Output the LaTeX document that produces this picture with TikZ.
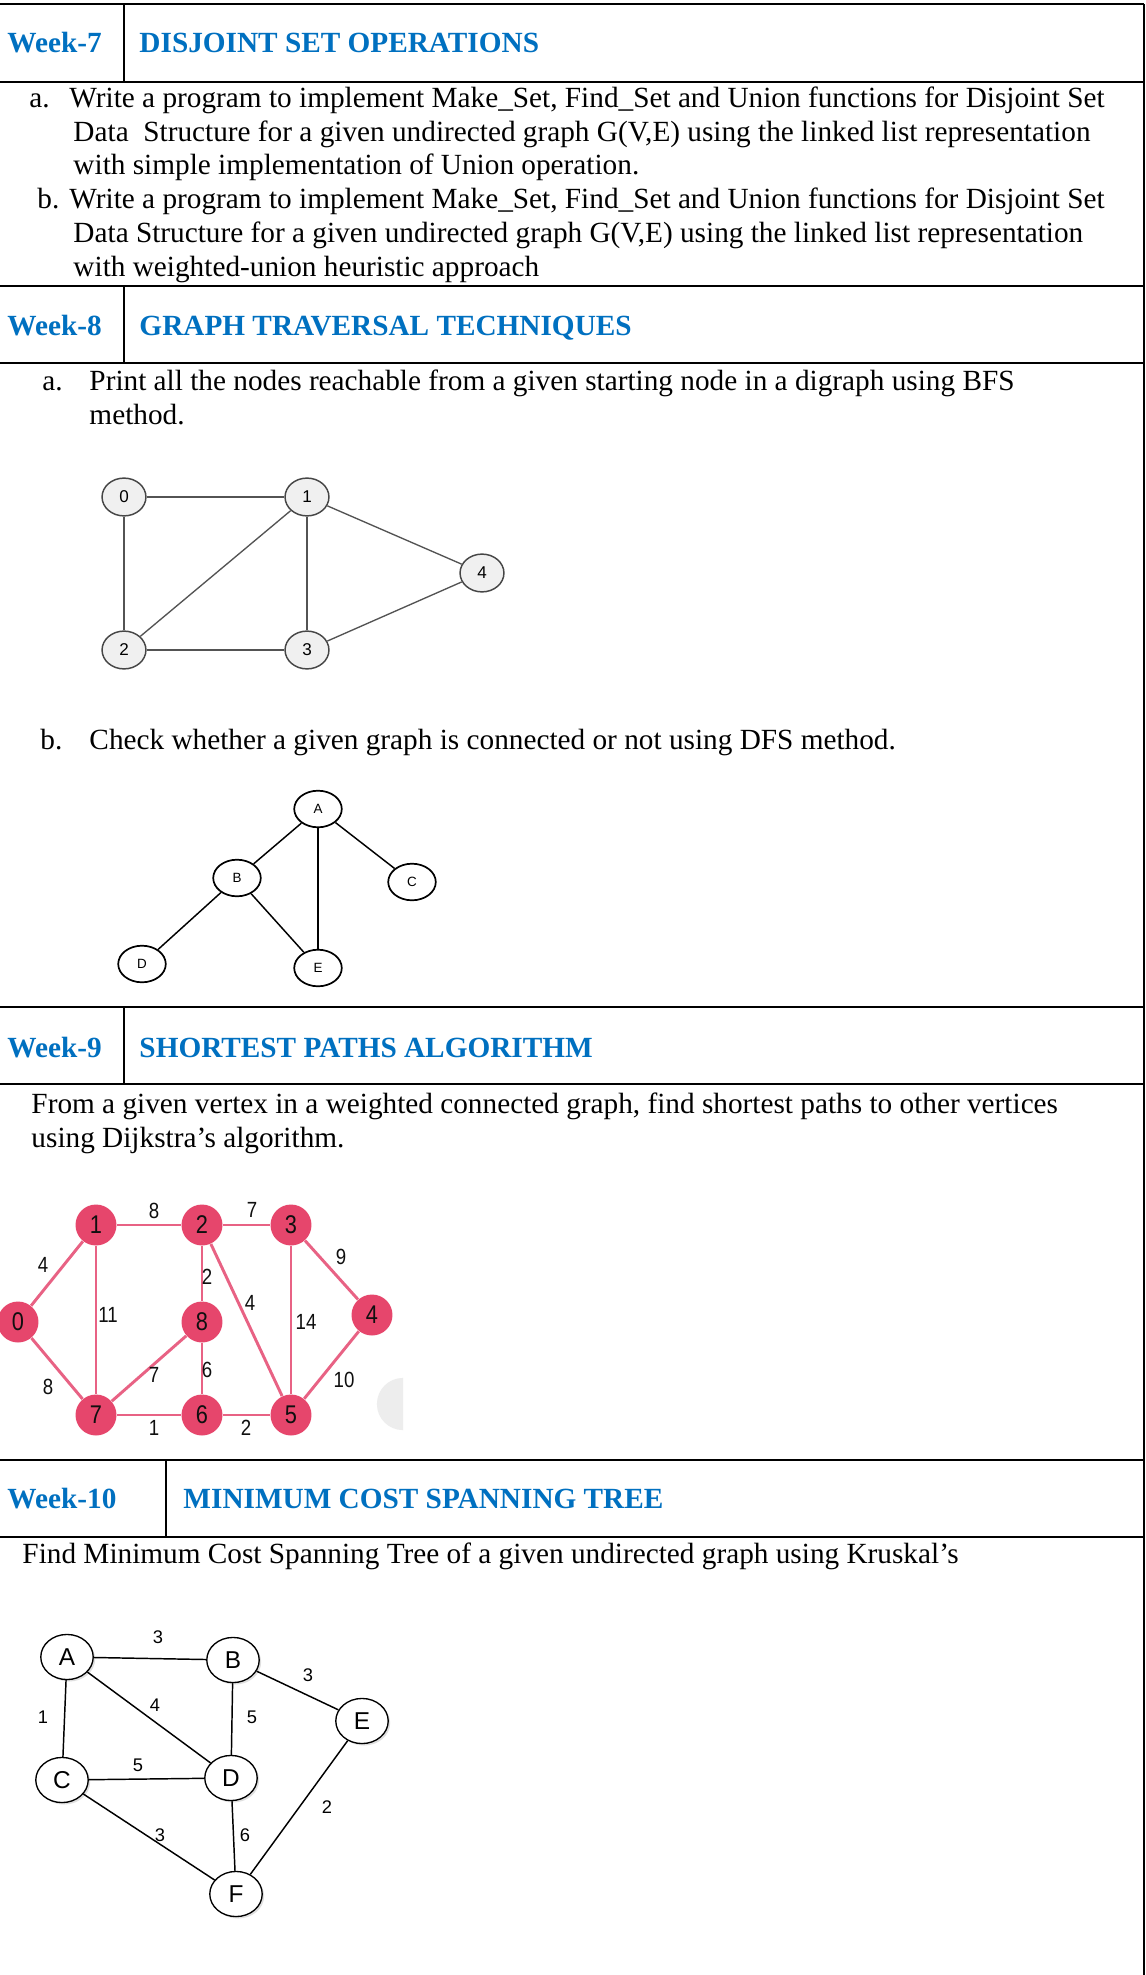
\documentclass[tikz,border=0pt]{standalone}
\usepackage{fontspec}
\setmainfont{Liberation Serif}
\setsansfont{Liberation Sans}
\newfontfamily\narrowsans[FakeStretch=0.85]{Liberation Sans}
\usetikzlibrary{shapes.geometric,shadows}
\definecolor{wkblue}{HTML}{0070C0}
\definecolor{djred}{RGB}{230,70,108}
\definecolor{djpink}{RGB}{232,98,132}
\definecolor{djtext}{RGB}{15,15,15}

\begin{document}
\begin{tikzpicture}[x=0.41pt,y=-0.41pt,
  rule/.style={line width=0.8pt},
  txt/.style={anchor=base west,inner sep=0pt,font=\fontsize{12}{14}\selectfont},
  head/.style={anchor=base west,inner sep=0pt,text=wkblue,font=\fontsize{12}{14}\selectfont\bfseries},
  bfsnode/.style={ellipse,draw=gray!55!black,fill=gray!12,line width=0.6pt,minimum width=18pt,minimum height=15.5pt,inner sep=0pt,font=\sffamily\fontsize{7}{7}\selectfont},
  bfsedge/.style={gray!65!black,line width=0.55pt},
  dfsnode/.style={ellipse,draw,line width=0.7pt,fill=white,minimum width=19.5pt,minimum height=15pt,inner sep=0pt,font=\sffamily\fontsize{5.5}{5.5}\selectfont},
  dfsedge/.style={line width=0.6pt},
  djnode/.style={circle,fill=djred,text=djtext,minimum size=16.8pt,inner sep=0pt,font=\narrowsans\fontsize{10.5}{10.5}\selectfont},
  djedge/.style={djpink,line width=1.2pt},
  djwt/.style={inner sep=0pt,text=djtext,font=\narrowsans\fontsize{9}{9}\selectfont},
  krnode/.style={ellipse,draw,line width=0.55pt,fill=white,minimum width=21.5pt,minimum height=18.5pt,inner sep=0pt,font=\sffamily\fontsize{10}{10}\selectfont,drop shadow={opacity=0.25,shadow xshift=0.8pt,shadow yshift=-0.8pt}},
  kredge/.style={line width=0.6pt},
  krwt/.style={inner sep=0pt,font=\sffamily\fontsize{7.5}{7.5}\selectfont}]
\useasboundingbox [fill=white] (0,0) rectangle (1145,1975);

% table rules
\draw [rule] (0,4) -- (1144,4);
\draw [rule] (1144,4) -- (1144,1975);
\draw [rule] (124,4) -- (124,82);
\draw [rule] (0,82) -- (1144,82);
\draw [rule] (0,286) -- (1144,286);
\draw [rule] (124,286) -- (124,363);
\draw [rule] (0,363) -- (1144,363);
\draw [rule] (0,1007) -- (1144,1007);
\draw [rule] (124,1007) -- (124,1084);
\draw [rule] (0,1084) -- (1144,1084);
\draw [rule] (0,1460) -- (1144,1460);
\draw [rule] (166,1460) -- (166,1537);
\draw [rule] (0,1537) -- (1144,1537);

% week 7
\node [head] (wk7) at (7,53) {Week-7};
\node [head] (wk7t) at (139,53) {DISJOINT SET OPERATIONS};
\node [txt] (wk7a) at (29,108) {a.};
\node [txt] (wk7a1) at (69,108) {Write a program to implement Make\_Set, Find\_Set and Union functions for Disjoint Set};
\node [txt] (wk7a2) at (73,142) {Data\ \ Structure for a given undirected graph G(V,E) using the linked list representation};
\node [txt] (wk7a3) at (73,175) {with simple implementation of Union operation.};
\node [txt] (wk7b) at (37,209) {b.};
\node [txt] (wk7b1) at (69,209) {Write a program to implement Make\_Set, Find\_Set and Union functions for Disjoint Set};
\node [txt] (wk7b2) at (73,243) {Data Structure for a given undirected graph G(V,E) using the linked list representation};
\node [txt] (wk7b3) at (73,276) {with weighted-union heuristic approach};

% week 8
\node [head] (wk8) at (7,335) {Week-8};
\node [head] (wk8t) at (139,335) {GRAPH TRAVERSAL TECHNIQUES};
\node [txt] (wk8a) at (42,390) {a.};
\node [txt] (wk8a1) at (89,390) {Print all the nodes reachable from a given starting node in a digraph using BFS};
\node [txt] (wk8a2) at (89,424) {method.};
\node [txt] (wk8b) at (40,749) {b.};
\node [txt] (wk8b1) at (89,749) {Check whether a given graph is connected or not using DFS method.};

\node [bfsnode] (b0) at (124,497) {0};
\node [bfsnode] (b1) at (307,497) {1};
\node [bfsnode] (b4) at (482,573) {4};
\node [bfsnode] (b2) at (124,650) {2};
\node [bfsnode] (b3) at (307,650) {3};
\draw [bfsedge, line width=1pt] (b0) -- (b1);
\draw [bfsedge, line width=1pt] (b2) -- (b3);
\draw [bfsedge] (b0) -- (b2);
\draw [bfsedge] (b1) -- (b2);
\draw [bfsedge] (b1) -- (b3);
\draw [bfsedge] (b1) -- (b4);
\draw [bfsedge] (b3) -- (b4);

\node [dfsnode] (dA) at (318,809) {A};
\node [dfsnode] (dB) at (237,878) {B};
\node [dfsnode] (dC) at (412,882) {C};
\node [dfsnode] (dD) at (142,964) {D};
\node [dfsnode] (dE) at (318,968) {E};
\draw [dfsedge] (dA) -- (dB);
\draw [dfsedge] (dA) -- (dE);
\draw [dfsedge] (dA) -- (dC);
\draw [dfsedge] (dB) -- (dD);
\draw [dfsedge] (dB) -- (dE);

% week 9
\node [head] (wk9) at (7,1057) {Week-9};
\node [head] (wk9t) at (139,1057) {SHORTEST PATHS ALGORITHM};
\node [txt] (wk9a1) at (31,1113) {From a given vertex in a weighted connected graph, find shortest paths to other vertices};
\node [txt] (wk9a2) at (31,1147) {using Dijkstra’s algorithm.};

\begin{scope}
\clip (370,1370) rectangle (403,1440);
\fill [gray!14] (403,1404) circle (10.7pt);
\end{scope}

\node [djnode] (j0) at (18,1322) {0};
\node [djnode] (j1) at (96,1225) {1};
\node [djnode] (j2) at (202,1225) {2};
\node [djnode] (j3) at (291,1225) {3};
\node [djnode] (j4) at (372,1315) {4};
\node [djnode] (j8) at (202,1322) {8};
\node [djnode] (j7) at (96,1415) {7};
\node [djnode] (j6) at (202,1415) {6};
\node [djnode] (j5) at (291,1415) {5};
\draw [djedge] (j0) -- (j1);
\draw [djedge] (j1) -- (j2);
\draw [djedge] (j2) -- (j3);
\draw [djedge] (j3) -- (j4);
\draw [djedge] (j1) -- (j7);
\draw [djedge] (j2) -- (j8);
\draw [djedge] (j2) -- (j5);
\draw [djedge] (j3) -- (j5);
\draw [djedge] (j0) -- (j7);
\draw [djedge] (j8) -- (j7);
\draw [djedge] (j8) -- (j6);
\draw [djedge] (j4) -- (j5);
\draw [djedge] (j7) -- (j6);
\draw [djedge] (j6) -- (j5);
\node [djwt] (jw01) at (43,1265) {4};
\node [djwt] (jw12) at (154,1211) {8};
\node [djwt] (jw23) at (252,1210) {7};
\node [djwt] (jw34) at (341,1257) {9};
\node [djwt] (jw17) at (108,1315) {11};
\node [djwt] (jw28) at (207,1277) {2};
\node [djwt] (jw25) at (250,1303) {4};
\node [djwt] (jw35) at (306,1322) {14};
\node [djwt] (jw07) at (48,1387) {8};
\node [djwt] (jw87) at (154,1375) {7};
\node [djwt] (jw86) at (207,1370) {6};
\node [djwt] (jw45) at (344,1380) {10};
\node [djwt] (jw76) at (154,1428) {1};
\node [djwt] (jw65) at (246,1428) {2};

% week 10
\node [head] (wk10) at (7,1508) {Week-10};
\node [head] (wk10t) at (183,1508) {MINIMUM COST SPANNING TREE};
\node [txt] (wk10a1) at (22,1563) {Find Minimum Cost Spanning Tree of a given undirected graph using Kruskal’s};

\node [krnode] (kA) at (67,1657) {A};
\node [krnode] (kB) at (233,1660) {B};
\node [krnode] (kE) at (362,1721) {E};
\node [krnode] (kC) at (62,1780) {C};
\node [krnode] (kD) at (231,1778) {D};
\node [krnode] (kF) at (236,1894) {F};
\draw [kredge] (kA) -- (kB);
\draw [kredge] (kA) -- (kC);
\draw [kredge] (kA) -- (kD);
\draw [kredge] (kB) -- (kD);
\draw [kredge] (kB) -- (kE);
\draw [kredge] (kC) -- (kD);
\draw [kredge] (kC) -- (kF);
\draw [kredge] (kD) -- (kF);
\draw [kredge] (kE) -- (kF);
\node [krwt] (kwAB) at (158,1637) {3};
\node [krwt] (kwBE) at (308,1675) {3};
\node [krwt] (kwAC) at (43,1717) {1};
\node [krwt] (kwAD) at (155,1705) {4};
\node [krwt] (kwBD) at (252,1717) {5};
\node [krwt] (kwCD) at (138,1765) {5};
\node [krwt] (kwEF) at (327,1807) {2};
\node [krwt] (kwCF) at (160,1835) {3};
\node [krwt] (kwDF) at (245,1835) {6};
\end{tikzpicture}
\end{document}
